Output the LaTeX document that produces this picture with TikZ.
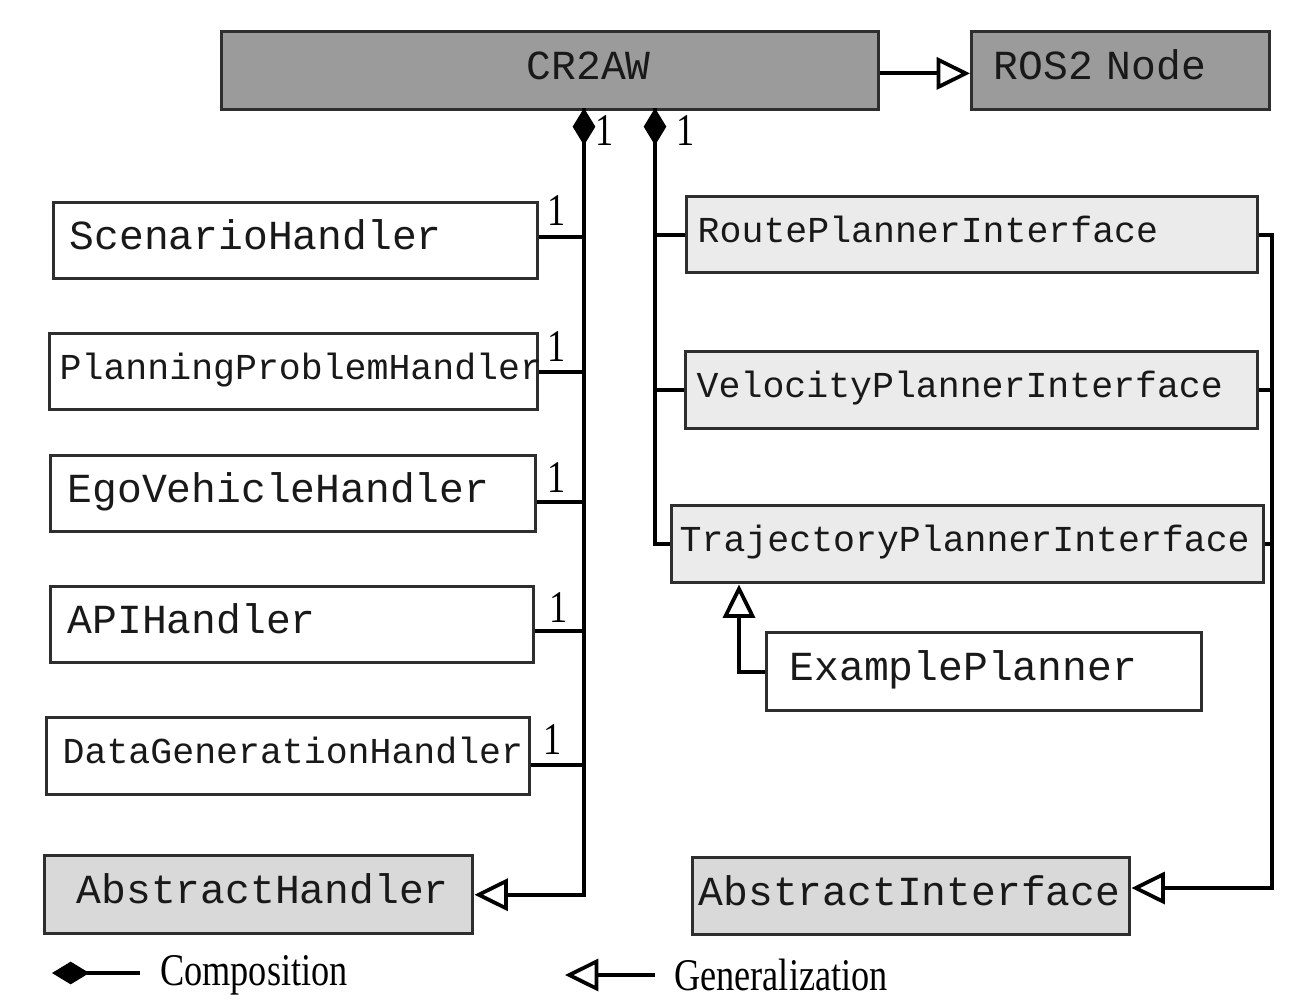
\documentclass[tikz,border=0pt]{standalone}
\usepackage{fontspec}
\newfontfamily\monofont[WordSpace={1,0,0}]{Liberation Mono}
\newfontfamily\serifnarrow[FakeStretch=0.8]{Liberation Serif}
\usetikzlibrary{arrows.meta}
\definecolor{bordc}{HTML}{2E2E2E}
\definecolor{darkfill}{HTML}{9B9B9B}
\definecolor{absfill}{HTML}{D9D9D9}
\definecolor{intfill}{HTML}{EBEBEB}
\tikzset{
  umlbox/.style={draw=bordc, line width=2.6pt, anchor=north west, align=left,
    inner ysep=0pt, text=black!90, execute at begin node=\strut},
  bigtxt/.style={font=\monofont\fontsize{31}{31}\selectfont},
  smalltxt/.style={font=\monofont\fontsize{27.4}{27.4}\selectfont},
  conn/.style={line width=3pt, draw=black},
  gentip/.tip={Triangle[open, length=25pt, width=24pt, line width=2.8pt]},
  comptip/.tip={Diamond[length=28pt, width=17pt]},
  lbl/.style={font=\serifnarrow\fontsize{34}{34}\selectfont, inner sep=0pt},
}
\newcommand\mkbox[9]{%
  \pgfmathsetmacro\bw{(#4-#2-2*#6)*0.75}%
  \pgfmathsetmacro\bp{#6*0.75}%
  \pgfmathsetmacro\bh{(#5-#3)*0.75}%
  \node[umlbox, #8, fill=#7, text width=\bw pt, inner xsep=\bp pt, minimum height=\bh pt] (#1) at (#2,#3) {#9};}
\begin{document}
\begin{tikzpicture}[x=0.75pt,y=-0.75pt]
\useasboundingbox (0,0) rectangle (1303,1003);
% boxes
\mkbox{cr}{220}{30}{877}{108}{305}{darkfill}{bigtxt}{CR2AW}
\mkbox{ros}{970}{30}{1268}{108}{22}{darkfill}{bigtxt}{ROS2 Node}
\mkbox{sh}{52}{201}{536}{277}{16}{white}{bigtxt}{ScenarioHandler}
\mkbox{pph}{48}{332}{536}{408}{10}{white}{smalltxt}{PlanningProblemHandler}
\mkbox{ego}{49}{454}{534}{530}{17}{white}{bigtxt}{EgoVehicleHandler}
\mkbox{api}{49}{585}{532}{661}{17}{white}{bigtxt}{APIHandler}
\mkbox{dg}{45}{716}{528}{793}{16}{white}{smalltxt}{DataGenerationHandler}
\mkbox{ah}{43}{854}{471}{932}{32}{absfill}{bigtxt}{AbstractHandler}
\mkbox{rpi}{685}{195}{1256}{271}{11}{intfill}{smalltxt}{RoutePlannerInterface}
\mkbox{vpi}{684}{350}{1256}{427}{11}{intfill}{smalltxt}{VelocityPlannerInterface}
\mkbox{tpi}{670}{504}{1262}{581}{8}{intfill}{smalltxt}{TrajectoryPlannerInterface}
\mkbox{ep}{765}{631}{1200}{709}{23}{white}{bigtxt}{ExamplePlanner}
\mkbox{ai}{691}{856}{1128}{933}{6}{absfill}{bigtxt}{AbstractInterface}
% helper coordinates
\coordinate (cl) at (584,108);
\coordinate (crr) at (655,108);
\coordinate (rx) at (1272,888);
\coordinate (exx) at (739,0);
% generalization CR2AW -> ROS2 Node
\draw[conn, -{gentip}] ([yshift=-2pt]cr.east) -- ([yshift=-2pt]ros.west);
% left composition
\draw[conn, {comptip}-] (cl) |- ([yshift=3pt]sh.east);
\draw[conn] (cl) |- (pph.east);
\draw[conn] (cl) |- ([yshift=-6pt]ego.east);
\draw[conn] (cl) |- ([yshift=-4.5pt]api.east);
\draw[conn] (cl) |- ([yshift=-6.75pt]dg.east);
\draw[conn, -{gentip}] (cl) |- (ah.east);
% right composition
\draw[conn, {comptip}-] (crr) |- (rpi.west);
\draw[conn] (crr) |- (vpi.west);
\draw[conn] (crr) |- (tpi.west);
% right generalization
\draw[conn] (vpi.east) -| (rx);
\draw[conn] (tpi.east) -| (rx);
\draw[conn, -{gentip}] (rpi.east) -| (rx) -- (ai.east |- rx);
% example planner
\draw[conn, -{gentip}] (ep.west) -| (tpi.south -| exx);
% multiplicities
\node[lbl] (m1) at (605,131) {1};
\node[lbl] (m2) at (686,131) {1};
\node[lbl] (m3) at (557,211) {1};
\node[lbl] (m4) at (557,347) {1};
\node[lbl] (m5) at (557,478) {1};
\node[lbl] (m6) at (559,608) {1};
\node[lbl] (m7) at (553,740) {1};
% legend
\coordinate (lg1a) at (52,973);
\coordinate (lg1b) at (140,973);
\draw[conn, {comptip}-] (lg1a) -- (lg1b);
\node[lbl, anchor=west] (legc) at (160,975) {Composition};
\coordinate (lg2a) at (565,975);
\coordinate (lg2b) at (655,975);
\draw[conn, {gentip}-] (lg2a) -- (lg2b);
\node[lbl, anchor=west] (legg) at (674,975) {Generalization};
\end{tikzpicture}
\end{document}
